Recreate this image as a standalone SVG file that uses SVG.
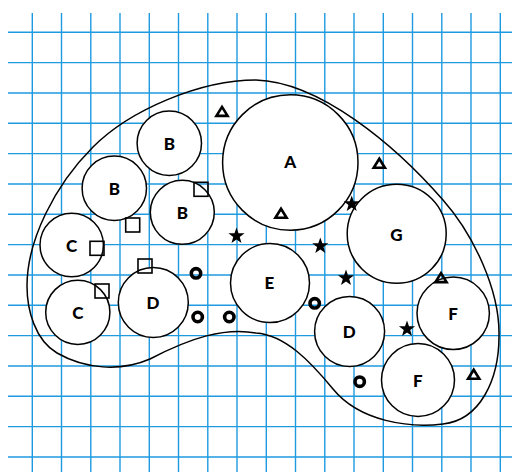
<svg xmlns="http://www.w3.org/2000/svg" width="512" height="472" viewBox="0 0 512 472">
<style>
.g{stroke:#1e9be0;stroke-width:1.4;fill:none}
.n{fill:#fff;stroke:#000;stroke-width:1.5}
.lb{font-family:"Lato","Liberation Sans",sans-serif;font-weight:900;font-size:17px;fill:#000;text-anchor:middle;dominant-baseline:central}
.tri{fill:none;stroke:#000;stroke-width:2.6;stroke-linejoin:miter}
.sq{fill:none;stroke:#000;stroke-width:1.6}
.ring{fill:none;stroke:#000;stroke-width:3.6}
.st{fill:#000}
</style>
<defs>
<path id="star" d="M0,-8.5 L2,-2.75 L8.08,-2.63 L3.23,1.05 L5,6.88 L0,3.4 L-5,6.88 L-3.23,1.05 L-8.08,-2.63 L-2,-2.75 Z"/>
<path id="tri" d="M0,-4.6 L5.6,4.4 L-5.6,4.4 Z"/>
</defs>
<rect width="512" height="472" fill="#fff"/>
<g id="grid" class="g">
<path d="M32.3,13V472M61.5,13V472M90.8,13V472M120,13V472M149.3,13V472M178.5,13V472M207.8,13V472M237,13V472M266.3,13V472M295.5,13V472M324.8,13V472M354,13V472M383.3,13V472M412.5,13V472M441.8,13V472M471,13V472M500.3,13V472"/>
<path d="M8,32.3H512M8,62.6H512M8,93H512M8,123.3H512M8,153.6H512M8,184H512M8,214.3H512M8,244.6H512M8,275H512M8,305.3H512M8,335.6H512M8,366H512M8,396.3H512M8,426.6H512M8,457H512"/>
</g>
<g id="region">
<path d="M256,80 C320,82 395,145 443,200 C473,234 500,290 499,336 C499,380 480,420 443,424 C410,428 360,422 333,389 C310,361 285,335 256,333 C225,327 190,338 150,359 C120,372 85,369 57,353 C35,340 27,310 27,286 C27,240 55,185 93,147 C130,110 200,80 256,80 Z" fill="none" stroke="#000" stroke-width="1.5"/>
</g>
<g id="connectors"></g>
<g id="nodeA"><circle class="n" cx="290.3" cy="162.5" r="67.7"/><text class="lb" x="290.3" y="161">A</text></g>
<g id="nodeB1"><circle class="n" cx="169.3" cy="143.3" r="32.2"/><text class="lb" x="169.3" y="143.3">B</text></g>
<g id="nodeB2"><circle class="n" cx="114.3" cy="188.3" r="32.2"/><text class="lb" x="114.3" y="188.3">B</text></g>
<g id="nodeB3"><circle class="n" cx="182.3" cy="212.3" r="32"/><text class="lb" x="182.3" y="212.3">B</text></g>
<g id="nodeG"><circle class="n" cx="396.7" cy="233.8" r="49.5"/><text class="lb" x="396.5" y="234">G</text></g>
<g id="nodeC1"><circle class="n" cx="71.7" cy="245" r="31.7"/><text class="lb" x="71.7" y="245">C</text></g>
<g id="nodeC2"><circle class="n" cx="77.8" cy="312.3" r="32.1"/><text class="lb" x="77.8" y="312.3">C</text></g>
<g id="nodeD1"><circle class="n" cx="153.3" cy="302.5" r="35"/><text class="lb" x="153" y="302.5">D</text></g>
<g id="nodeE"><circle class="n" cx="270" cy="283" r="39.5"/><text class="lb" x="269.5" y="282.7">E</text></g>
<g id="nodeD2"><circle class="n" cx="349.6" cy="331.5" r="35"/><text class="lb" x="349.3" y="331.7">D</text></g>
<g id="nodeF1"><circle class="n" cx="453.2" cy="313.3" r="36.2"/><text class="lb" x="453" y="313.3">F</text></g>
<g id="nodeF2"><circle class="n" cx="418" cy="380" r="36.5"/><text class="lb" x="417.7" y="380">F</text></g>
<g id="triangles">
<use href="#tri" class="tri" x="222" y="111.5"/>
<use href="#tri" class="tri" x="379.3" y="163.3"/>
<use href="#tri" class="tri" x="281" y="213.3"/>
<use href="#tri" class="tri" x="441" y="277.7"/>
<use href="#tri" class="tri" x="473.7" y="374.3"/>
</g>
<g id="squares">
<rect class="sq" x="194" y="182.3" width="14" height="14"/>
<rect class="sq" x="125.7" y="218" width="14" height="14"/>
<rect class="sq" x="90" y="241.3" width="14" height="14"/>
<rect class="sq" x="138" y="259" width="14" height="14"/>
<rect class="sq" x="95" y="284" width="14" height="14"/>
</g>
<g id="stars" class="st">
<use href="#star" x="236.5" y="236"/>
<use href="#star" x="351.7" y="204"/>
<use href="#star" x="320.3" y="246"/>
<use href="#star" x="346" y="278"/>
<use href="#star" x="407" y="329"/>
</g>
<g id="rings">
<circle class="ring" cx="196" cy="273.3" r="4.7"/>
<circle class="ring" cx="197.7" cy="317" r="4.7"/>
<circle class="ring" cx="229.3" cy="317" r="4.7"/>
<circle class="ring" cx="314.7" cy="303.3" r="4.7"/>
<circle class="ring" cx="359.7" cy="381.7" r="4.7"/>
</g>
</svg>
